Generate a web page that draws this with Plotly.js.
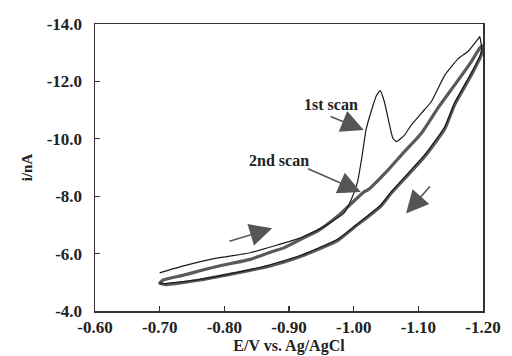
<!DOCTYPE html>
<html>
<head>
<meta charset="utf-8">
<script src="https://cdn.plot.ly/plotly-3.0.1.min.js"></script>
<style>html,body{margin:0;padding:0;background:#fff;}#chart{width:512px;height:356px;}</style>
</head>
<body>
<div id="chart"></div>
<script>
// 1st scan (thin black line): forward then return sweep
var scan1X = [-0.700, -0.737, -0.788, -0.840, -0.882, -0.918, -0.954, -0.985, -0.996, -1.006, -1.013, -1.019, -1.027, -1.035, -1.041, -1.0475, -1.0555, -1.0606, -1.066, -1.0787, -1.089, -1.105, -1.120, -1.141, -1.162, -1.177, -1.193, -1.195,
              -1.198, -1.182, -1.156, -1.141, -1.110, -1.058, -1.042, -0.975, -0.920, -0.866, -0.814, -0.7625, -0.705, -0.700];
var scan1Y = [-5.33, -5.57, -5.84, -6.03, -6.30, -6.55, -6.94, -7.41, -7.87, -8.50, -9.40, -10.30, -10.95, -11.50, -11.68, -11.29, -10.48, -10.02, -9.90, -10.13, -10.48, -10.90, -11.29, -12.22, -12.80, -13.05, -13.50, -13.56,
              -13.05, -12.30, -11.25, -10.42, -9.45, -8.15, -7.70, -6.50, -5.95, -5.58, -5.32, -5.10, -4.95, -4.98];

// 2nd scan (thick grey line): forward then return sweep
var scan2X = [-0.700, -0.7055, -0.737, -0.788, -0.840, -0.871, -0.892, -0.923, -0.944, -0.975, -1.0165, -1.022, -1.053, -1.074, -1.105, -1.130, -1.156, -1.182, -1.195, -1.200,
              -1.197, -1.182, -1.156, -1.141, -1.110, -1.058, -1.042, -1.000, -0.975, -0.920, -0.868, -0.814, -0.7625, -0.710, -0.700];
var scan2Y = [-4.97, -5.08, -5.25, -5.55, -5.80, -6.05, -6.20, -6.55, -6.78, -7.30, -8.16, -8.22, -8.91, -9.44, -10.20, -11.06, -11.87, -12.69, -13.16, -13.25,
              -12.90, -12.22, -11.18, -10.35, -9.38, -8.10, -7.65, -6.90, -6.45, -5.92, -5.55, -5.30, -5.08, -4.92, -4.97];

var xTickVals = [-0.60, -0.70, -0.80, -0.90, -1.00, -1.10, -1.20];
var xTickText = ["-0.60", "-0.70", "-0.80", "-0.90", "-1.00", "-1.10", "-1.20"];
var yTickVals = [-4, -6, -8, -10, -12, -14];
var yTickText = ["-4.0", "-6.0", "-8.0", "-10.0", "-12.0", "-14.0"];

var serif = "Liberation Serif, Times New Roman, serif";
var arrowColor = "#555";
function bold(arr) { return arr.map(function (s) { return "<b>" + s + "</b>"; }); }

var traces = [
  {x: scan2X, y: scan2Y, mode: "lines", line: {color: "#5a5a5a", width: 3.2, shape: "spline", smoothing: 0.5}, name: "2nd scan", hoverinfo: "skip"},
  {x: scan1X, y: scan1Y, mode: "lines", line: {color: "#1a1a1a", width: 1.2, shape: "spline", smoothing: 0.4}, name: "1st scan", hoverinfo: "skip"}
];

function arrow(tipX, tipY, tailX, tailY) {
  return {x: tipX, y: tipY, ax: tailX, ay: tailY, xref: "x", yref: "y", axref: "x", ayref: "y",
          text: "", showarrow: true, arrowhead: 2, arrowsize: 2.8, arrowwidth: 1.6, arrowcolor: arrowColor};
}

var layout = {
  width: 512, height: 356,
  margin: {l: 95, r: 29, t: 24, b: 45},
  paper_bgcolor: "#fff", plot_bgcolor: "#fff",
  showlegend: false,
  font: {family: serif, color: "#222", size: 16},
  xaxis: {
    range: [-0.6, -1.2], tickmode: "array", tickvals: xTickVals, ticktext: bold(xTickText),
    ticks: "inside", ticklen: 5, tickwidth: 1.2, tickcolor: "#333",
    showline: true, linecolor: "#333", linewidth: 1.5, mirror: true, showgrid: false, zeroline: false,
    tickfont: {family: serif, size: 17, color: "#222"},
    title: {text: "<b>E/V vs. Ag/AgCl</b>", font: {family: serif, size: 16, color: "#222"}, standoff: 3}
  },
  yaxis: {
    range: [-4, -14], tickmode: "array", tickvals: yTickVals, ticktext: bold(yTickText),
    ticks: "inside", ticklen: 5, tickwidth: 1.2, tickcolor: "#333",
    showline: true, linecolor: "#333", linewidth: 1.5, mirror: true, showgrid: false, zeroline: false,
    ticklabelstandoff: 8,
    tickfont: {family: serif, size: 17, color: "#222"},
    title: {text: "<b>i/nA</b>", font: {family: serif, size: 15, color: "#222"}, standoff: 10}
  },
  annotations: [
    {x: -0.9647, y: -11.18, xref: "x", yref: "y", text: "<b>1st scan</b>", showarrow: false, font: {family: serif, size: 16, color: "#222"}},
    {x: -0.884, y: -9.26, xref: "x", yref: "y", text: "<b>2nd scan</b>", showarrow: false, font: {family: serif, size: 16, color: "#222"}},
    arrow(-1.0156, -10.31, -0.962, -10.80),
    arrow(-1.011, -8.15, -0.927, -8.98),
    arrow(-0.874, -6.88, -0.8056, -6.415),
    arrow(-1.081, -7.40, -1.120, -8.39)
  ]
};

Plotly.newPlot("chart", traces, layout, {displayModeBar: false, staticPlot: true});
</script>
</body>
</html>
